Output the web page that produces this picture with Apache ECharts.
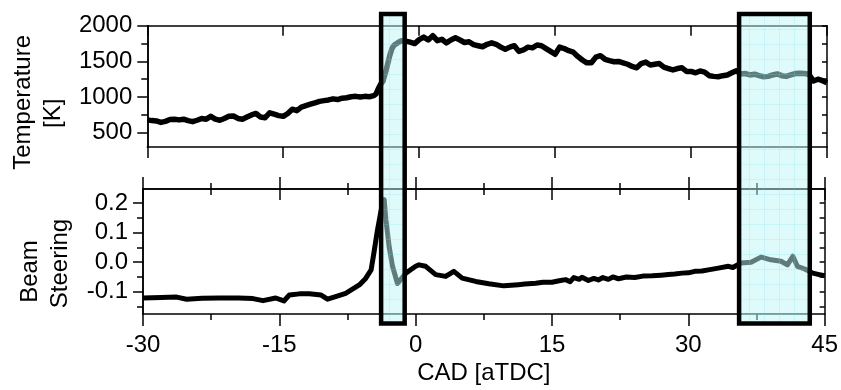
<!DOCTYPE html>
<html>
<head>
<meta charset="utf-8">
<script src="https://cdn.jsdelivr.net/npm/echarts@6/dist/echarts.min.js"></script>
<style>
  html, body { margin: 0; padding: 0; background: #fff; }
  #main { width: 841px; height: 390px; }
</style>
</head>
<body>
<div id="main"></div>
<script>
// crank angle [CAD aTDC] / temperature [K]
const tempCad = [-30,-29.5,-29,-28.5,-28,-27.5,-27,-26.5,-26,-25.5,-25,-24.5,-24,-23.5,-23,-22.5,-22,-21.5,-21,-20.5,
  -20,-19.5,-19,-18.5,-18,-17.5,-17,-16.5,-16,-15.5,-15,-14.5,-14,-13.5,-13,-12.5,-12,-11.5,-11,-10.5,
  -10,-9.5,-9,-8.5,-8,-7.5,-7,-6.5,-6,-5.5,-5,-4.75,-4.5,-4.25,-4,-3.75,-3.5,-3.25,-3,-2.75,
  -2.5,-2.25,-2,-1.5,-1,-0.5,0,0.5,1,1.5,2,2.5,3,3.5,4,4.5,5,5.5,6,6.5,
  7,7.5,8,8.5,9,9.5,10,10.5,11,11.5,12,12.5,13,13.5,14,14.5,15,15.5,16,16.5,
  17,17.5,18,18.5,19,19.5,20,20.5,21,21.5,22,22.5,23,23.5,24,24.5,25,25.5,26,26.5,
  27,27.5,28,28.5,29,29.5,30,30.5,31,31.5,32,32.5,33,33.5,34,34.5,35,35.5,36,36.5,
  37,37.5,38,38.5,39,39.5,40,40.5,41,41.5,42,42.5,43,43.5,44,44.5,45];
const tempK = [680,670,665,645,660,685,690,680,690,670,655,675,700,690,730,690,675,700,730,735,
  700,690,720,750,770,720,710,780,760,740,730,770,830,810,860,880,900,920,940,950,
  960,975,965,985,990,1005,1010,1000,1010,1005,1020,1045,1120,1180,1220,1330,1450,1580,1680,1730,
  1750,1770,1790,1785,1770,1750,1805,1840,1800,1860,1790,1810,1760,1800,1830,1800,1765,1775,1735,1720,
  1705,1740,1760,1740,1700,1670,1700,1720,1640,1660,1700,1690,1730,1720,1680,1640,1600,1700,1680,1650,
  1630,1570,1520,1480,1480,1560,1580,1530,1510,1495,1500,1480,1460,1430,1410,1470,1490,1450,1460,1470,
  1420,1400,1380,1400,1410,1360,1360,1340,1365,1350,1300,1290,1285,1300,1310,1340,1370,1325,1330,1310,
  1320,1300,1285,1290,1310,1325,1300,1290,1310,1330,1335,1330,1320,1225,1250,1230,1200];

// crank angle / beam steering
const beamCad = [-30,-28,-26.3,-25.2,-23.5,-21.6,-19.5,-17.9,-16.8,-15.4,-14.5,-13.9,-12.8,-11.7,-10.4,-9.7,-8.8,-7.7,-7,-6.2,
  -5.5,-4.9,-4.6,-4.2,-3.65,-3.46,-3.28,-3.1,-2.92,-2.55,-2,-1.82,-1.08,0,0.37,1.1,2.2,3.3,4.2,5.12,
  6.6,8.05,9.7,11.3,12,13.2,14,15,15.8,16.5,17,17.4,18,18.3,19,19.6,20.1,20.6,21.2,21.7,
  22.3,23.2,24.1,25,26,27,27.8,28.5,29.3,30,30.7,31.5,32.2,33.3,34.4,34.9,35.8,36.9,38,39.1,
  40.2,40.9,41.5,42,42.8,43.7,44.4,45];
const beamVal = [-0.121,-0.119,-0.118,-0.125,-0.122,-0.121,-0.121,-0.123,-0.13,-0.121,-0.131,-0.111,-0.107,-0.107,-0.111,-0.125,-0.116,-0.105,-0.092,-0.077,
  -0.055,-0.026,0.03,0.109,0.2,0.211,0.143,0.1,0.053,-0.014,-0.072,-0.076,-0.037,-0.014,-0.009,-0.014,-0.042,-0.048,-0.031,-0.054,
  -0.065,-0.073,-0.08,-0.076,-0.074,-0.071,-0.068,-0.068,-0.063,-0.059,-0.066,-0.052,-0.058,-0.051,-0.062,-0.055,-0.06,-0.052,-0.058,-0.05,
  -0.056,-0.05,-0.052,-0.047,-0.046,-0.044,-0.042,-0.04,-0.037,-0.036,-0.031,-0.03,-0.026,-0.02,-0.014,-0.018,-0.003,0,0.017,0.008,
  0.003,-0.009,0.02,-0.014,-0.023,-0.037,-0.042,-0.046];

const tempMajor = [500, 1000, 1500, 2000];
const tempMinor = [750, 1250, 1750];
const beamMajor = [-0.1, 0, 0.1, 0.2];
const beamMinor = [-0.15, -0.05, 0.05, 0.15];
// highlighted CAD windows
const windows = [[-4.2, -1.6], [35.3, 43.1]];

const FONT = '"Liberation Sans", Arial, sans-serif';
const black = '#000';

function zip(xs, ys) {
    return xs.map(function (x, i) { return [x, ys[i]]; });
}

function xAx(grid, pos, inside, len, opts) {
    return Object.assign({
        type: 'value', gridIndex: grid, position: pos, min: -30, max: 45, interval: 15,
        axisLine: { show: true, onZero: false, lineStyle: { color: black, width: 1.5 } },
        axisTick: { show: true, inside: inside, length: len, lineStyle: { color: black, width: 1.5 } },
        axisLabel: { show: false },
        splitLine: { show: false }
    }, opts || {});
}

function yAx(grid, pos, min, max, ticks, inside, len, opts) {
    return Object.assign({
        type: 'value', gridIndex: grid, position: pos, min: min, max: max,
        axisLine: { show: true, onZero: false, lineStyle: { color: black, width: 1.5 } },
        axisTick: { show: true, inside: inside, length: len, customValues: ticks, lineStyle: { color: black, width: 1.5 } },
        axisLabel: { show: false },
        splitLine: { show: false }
    }, opts || {});
}

const labelStyle = { color: black, fontFamily: FONT, fontSize: 24 };
const minor = { show: true, splitNumber: 2, length: 6, lineStyle: { color: black, width: 1.5 } };

const chart = echarts.init(document.getElementById('main'), null, { renderer: 'canvas' });

const option = {
    animation: false,
    backgroundColor: '#fff',
    grid: [
        { left: 143, right: 14, top: 23, height: 124 },
        { left: 143, right: 14, top: 189, height: 125 }
    ],
    xAxis: [
        xAx(0, 'bottom', false, 11),
        xAx(0, 'top', true, 10),
        xAx(1, 'bottom', false, 12, {
            minorTick: minor,
            axisLabel: Object.assign({ show: true, margin: 19 }, labelStyle),
            name: 'CAD [aTDC]', nameLocation: 'middle', nameGap: 47,
            nameTextStyle: { color: black, fontFamily: FONT, fontSize: 24 }
        }),
        xAx(1, 'top', true, 11, { minorTick: minor }),
        xAx(1, 'top', false, 12, { minorTick: minor })
    ],
    yAxis: [
        yAx(0, 'left', 300, 2000, tempMajor, false, 10, {
            axisLabel: Object.assign({
                show: true, margin: 15, customValues: tempMajor,
                formatter: function (v) { return String(v); }
            }, labelStyle),
            name: '{a|Temperature}\n{b|[K]}', nameLocation: 'middle', nameGap: 72,
            nameTextStyle: {
                color: black, fontFamily: FONT, fontSize: 24, lineHeight: 30,
                padding: [0, 32, 0, 0],
                rich: {
                    a: { fontFamily: FONT, fontSize: 24, lineHeight: 30 },
                    b: { fontFamily: FONT, fontSize: 24, lineHeight: 30, padding: [0, 22, 0, 0] }
                }
            }
        }),
        yAx(0, 'left', 300, 2000, tempMinor, false, 6),
        yAx(0, 'right', 300, 2000, tempMajor.concat(tempMinor), true, 5),
        yAx(1, 'left', -0.175, 0.247, beamMajor, false, 10, {
            axisLabel: Object.assign({
                show: true, margin: 15, customValues: beamMajor,
                formatter: function (v) { return v.toFixed(1); }
            }, labelStyle),
            name: '{a|Beam}\n{b|Steering}', nameLocation: 'middle', nameGap: 55,
            nameTextStyle: {
                color: black, fontFamily: FONT, fontSize: 24, lineHeight: 30,
                padding: [0, 24, 0, 0],
                rich: {
                    a: { fontFamily: FONT, fontSize: 24, lineHeight: 30, padding: [0, 16, 0, 0] },
                    b: { fontFamily: FONT, fontSize: 24, lineHeight: 30 }
                }
            }
        }),
        yAx(1, 'left', -0.175, 0.247, beamMinor, false, 6),
        yAx(1, 'right', -0.175, 0.247, beamMajor.concat(beamMinor), true, 5)
    ],
    series: [
        {
            type: 'line', xAxisIndex: 0, yAxisIndex: 0, data: zip(tempCad, tempK),
            showSymbol: false, symbol: 'none', lineStyle: { color: black, width: 5.5, join: 'round' }, z: 3
        },
        {
            type: 'line', xAxisIndex: 2, yAxisIndex: 3, data: zip(beamCad, beamVal),
            showSymbol: false, symbol: 'none', lineStyle: { color: black, width: 5, join: 'round' }, z: 3
        }
    ]
};

chart.setOption(option);

// light cyan fill with a faint grid, drawn over the curves
function makePattern() {
    const c = document.createElement('canvas');
    c.width = 15; c.height = 15;
    const ctx = c.getContext('2d');
    ctx.fillStyle = 'rgba(190,245,245,0.5)';
    ctx.fillRect(0, 0, 15, 15);
    ctx.fillStyle = 'rgba(120,225,230,0.22)';
    ctx.fillRect(14, 0, 1, 15);
    ctx.fillRect(0, 14, 15, 1);
    return c;
}
const pat = makePattern();

const boxTop = 14, boxBottom = 323.5;
const boxes = windows.map(function (w) {
    const x1 = chart.convertToPixel({ xAxisIndex: 0 }, w[0]);
    const x2 = chart.convertToPixel({ xAxisIndex: 0 }, w[1]);
    return {
        type: 'rect', z: 100, silent: true,
        shape: { x: x1, y: boxTop, width: x2 - x1, height: boxBottom - boxTop },
        style: { fill: { image: pat, repeat: 'repeat' }, stroke: black, lineWidth: 4.5 }
    };
});
chart.setOption({ graphic: boxes });
</script>
</body>
</html>
